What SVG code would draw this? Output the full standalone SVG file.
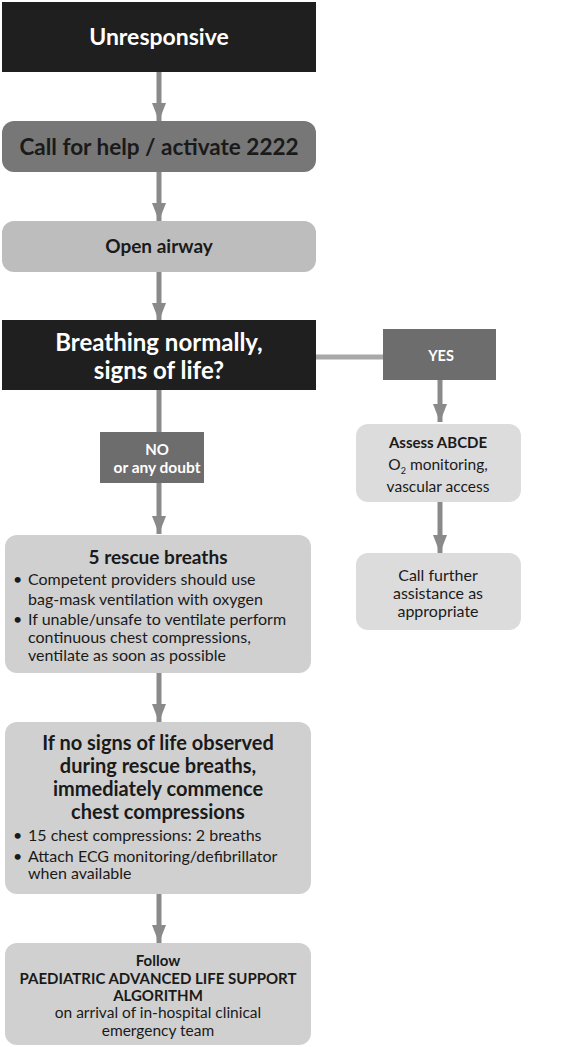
<svg xmlns="http://www.w3.org/2000/svg" width="583" height="1047" viewBox="0 0 583 1047">
<style>
text{font-family:Lato,"Open Sans","Liberation Sans",sans-serif;text-anchor:middle;fill:#1a1a1a}
.w{fill:#ffffff}
.b{font-weight:bold}
.l{text-anchor:start}
.t{font-size:16px}
.s{font-size:15.5px}
.conn{stroke:#8a8a8a;stroke-width:5;fill:none}
</style>
<defs>
<marker id="ah" markerUnits="userSpaceOnUse" markerWidth="20" markerHeight="14" refX="18" refY="7" orient="auto">
<path d="M0,0 L18,7 L0,14 Z" fill="#8a8a8a"/>
</marker>
</defs>
<rect width="583" height="1047" fill="#ffffff"/>
<g id="connectors">
<line class="conn" x1="159" y1="71" x2="159" y2="121" marker-end="url(#ah)"/>
<line class="conn" x1="159" y1="171" x2="159" y2="221" marker-end="url(#ah)"/>
<line class="conn" x1="159" y1="272" x2="159" y2="321" marker-end="url(#ah)"/>
<line class="conn" x1="159" y1="390" x2="159" y2="432"/>
<line x1="316" y1="357" x2="383" y2="357" stroke="#a8a8a8" stroke-width="5"/>
<line class="conn" x1="159" y1="483" x2="159" y2="534" marker-end="url(#ah)"/>
<line class="conn" x1="440" y1="380" x2="440" y2="422" marker-end="url(#ah)"/>
<line class="conn" x1="440" y1="502" x2="440" y2="553" marker-end="url(#ah)"/>
<line class="conn" x1="159" y1="673" x2="159" y2="722" marker-end="url(#ah)"/>
<line class="conn" x1="159" y1="894" x2="159" y2="943" marker-end="url(#ah)"/>
</g>
<g id="unresponsive">
<rect x="2" y="2" width="314" height="70" fill="#1f1f1f"/>
<text class="w b" x="159" y="45" font-size="23">Unresponsive</text>
</g>
<g id="call-help">
<rect x="2" y="121" width="314" height="51" rx="12" fill="#777777"/>
<text class="b" x="159" y="155" font-size="22.5">Call for help / activate 2222</text>
</g>
<g id="open-airway">
<rect x="2" y="221" width="314" height="51" rx="12" fill="#bdbdbd"/>
<text class="b" x="159" y="253" font-size="19">Open airway</text>
</g>
<g id="breathing">
<rect x="2" y="320" width="314" height="70" fill="#1f1f1f"/>
<text class="w b" x="159" y="351" font-size="24">Breathing normally,</text>
<text class="w b" x="159" y="379" font-size="24">signs of life?</text>
</g>
<g id="yes">
<rect x="383" y="329" width="113" height="51" fill="#6d6d6d"/>
<text class="w b" x="441" y="361" font-size="14.5">YES</text>
</g>
<g id="no">
<rect x="100" y="432" width="104" height="51" fill="#6d6d6d"/>
<text class="w b" x="157" y="455" font-size="15">NO</text>
<text class="w b" x="157" y="473" font-size="15.5">or any doubt</text>
</g>
<g id="assess">
<rect x="356" y="424" width="165" height="78" rx="12" fill="#dcdcdc"/>
<text class="b" x="438" y="448" font-size="15">Assess ABCDE</text>
<text class="s" x="438" y="470">O<tspan font-size="9" dy="4">2</tspan><tspan dy="-4"> monitoring,</tspan></text>
<text class="s" x="438" y="492">vascular access</text>
</g>
<g id="call-further">
<rect x="356" y="553" width="165" height="77" rx="12" fill="#dcdcdc"/>
<text class="t" x="438" y="581">Call further</text>
<text class="t" x="438" y="599">assistance as</text>
<text class="t" x="438" y="617">appropriate</text>
</g>
<g id="rescue-breaths">
<rect x="5" y="535" width="306" height="138" rx="12" fill="#d0d0d0"/>
<text class="b" x="158" y="564" font-size="19">5 rescue breaths</text>
<text class="l t" x="13" y="585">•</text>
<text class="l t" x="28" y="585">Competent providers should use</text>
<text class="l t" x="28" y="605">bag-mask ventilation with oxygen</text>
<text class="l t" x="13" y="625">•</text>
<text class="l t" x="28" y="625">If unable/unsafe to ventilate perform</text>
<text class="l t" x="28" y="643">continuous chest compressions,</text>
<text class="l t" x="28" y="661">ventilate as soon as possible</text>
</g>
<g id="compressions">
<rect x="5" y="722" width="306" height="172" rx="12" fill="#d0d0d0"/>
<text class="b" x="158" y="750" font-size="20">If no signs of life observed</text>
<text class="b" x="158" y="773" font-size="20">during rescue breaths,</text>
<text class="b" x="158" y="796" font-size="20">immediately commence</text>
<text class="b" x="158" y="819" font-size="20">chest compressions</text>
<text class="l t" x="13" y="841">•</text>
<text class="l t" x="28" y="841">15 chest compressions: 2 breaths</text>
<text class="l t" x="13" y="862">•</text>
<text class="l t" x="28" y="862">Attach ECG monitoring/defibrillator</text>
<text class="l t" x="28" y="879">when available</text>
</g>
<g id="pals">
<rect x="5" y="943" width="306" height="102" rx="12" fill="#d0d0d0"/>
<text class="b" x="158" y="966" font-size="15">Follow</text>
<text class="b" x="158" y="984" font-size="15">PAEDIATRIC ADVANCED LIFE SUPPORT</text>
<text class="b" x="158" y="1001" font-size="15">ALGORITHM</text>
<text class="s" x="158" y="1018">on arrival of in-hospital clinical</text>
<text class="s" x="158" y="1036">emergency team</text>
</g>
</svg>
